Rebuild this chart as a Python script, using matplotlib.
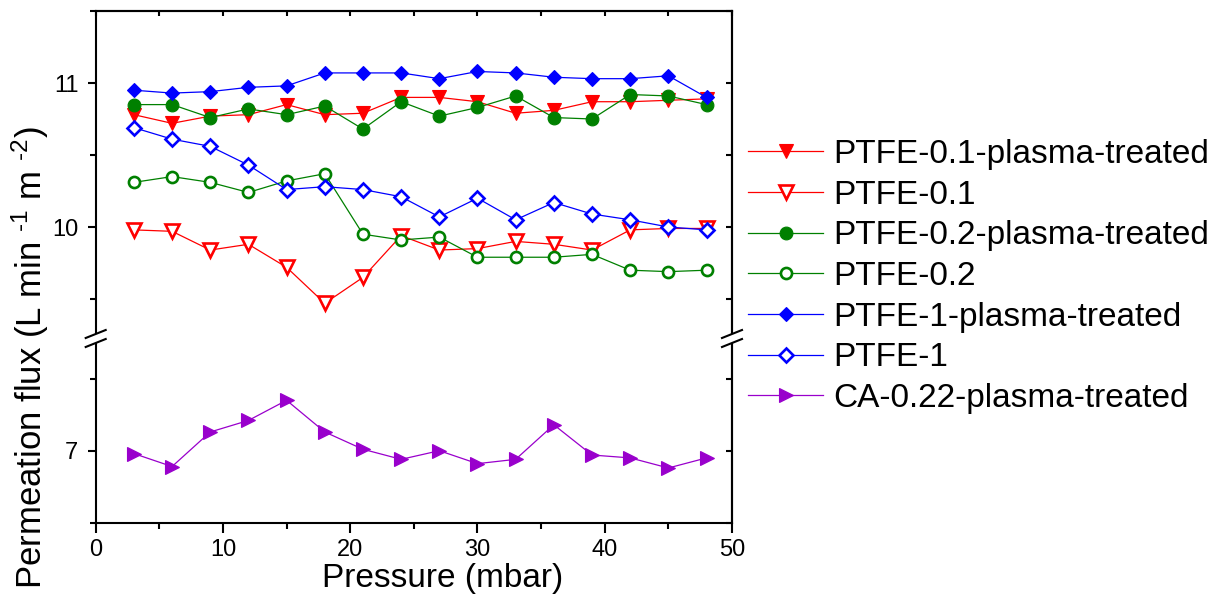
import matplotlib
matplotlib.use("Agg")
import matplotlib.pyplot as plt
from matplotlib.ticker import MultipleLocator, NullFormatter
from matplotlib.lines import Line2D
from matplotlib.patches import Polygon

plt.rcParams["font.family"] = ["Liberation Sans", "DejaVu Sans"]
plt.rcParams["mathtext.fontset"] = "custom"
plt.rcParams["mathtext.rm"] = "Liberation Sans"
plt.rcParams["mathtext.it"] = "Liberation Sans:italic"
plt.rcParams["mathtext.default"] = "regular"

# ---- data: permeation flux (L min-1 m-2) vs. pressure (mbar) ----
pressure = [3, 6, 9, 12, 15, 18, 21, 24, 27, 30, 33, 36, 39, 42, 45, 48]

ptfe01_plasma = [10.78, 10.72, 10.77, 10.78, 10.85, 10.78, 10.79, 10.90,
                 10.90, 10.87, 10.79, 10.81, 10.87, 10.87, 10.88, 10.89]
ptfe01 = [9.98, 9.97, 9.84, 9.88, 9.72, 9.47, 9.65, 9.94,
          9.84, 9.85, 9.90, 9.88, 9.84, 9.98, 9.99, 9.99]
ptfe02_plasma = [10.85, 10.85, 10.76, 10.82, 10.78, 10.84, 10.68, 10.87,
                 10.77, 10.83, 10.91, 10.76, 10.75, 10.92, 10.91, 10.85]
ptfe02 = [10.31, 10.35, 10.31, 10.24, 10.32, 10.37, 9.95, 9.91,
          9.93, 9.79, 9.79, 9.79, 9.81, 9.70, 9.69, 9.70]
ptfe1_plasma = [10.95, 10.93, 10.94, 10.97, 10.98, 11.07, 11.07, 11.07,
                11.03, 11.08, 11.07, 11.04, 11.03, 11.03, 11.05, 10.90]
ptfe1 = [10.69, 10.61, 10.56, 10.43, 10.26, 10.28, 10.26, 10.21,
         10.07, 10.20, 10.05, 10.17, 10.09, 10.05, 10.00, 9.98]
ca022_plasma = [6.98, 6.89, 7.13, 7.21, 7.35, 7.13, 7.01, 6.94,
                7.00, 6.91, 6.94, 7.18, 6.97, 6.95, 6.88, 6.95]

series_labels = ["PTFE-0.1-plasma-treated", "PTFE-0.1",
                 "PTFE-0.2-plasma-treated", "PTFE-0.2",
                 "PTFE-1-plasma-treated", "PTFE-1",
                 "CA-0.22-plasma-treated"]

RED, GREEN, BLUE, PURPLE = "#FF0000", "#008000", "#0000FF", "#9900CC"

# ---- layout in pixels ----
W, H = 1218, 607
fig = plt.figure(figsize=(W / 100, H / 100), dpi=100)


def fx(px):
    return px / W


def fy(py):
    return 1 - py / H


left, right = 95.7, 732.0
top, brk, bottom = 11.0, 338.5, 522.7
px_per_unit = 144.0

ax_top = fig.add_axes([fx(left), fy(brk), fx(right) - fx(left), fy(top) - fy(brk)])
ax_bot = fig.add_axes([fx(left), fy(bottom), fx(right) - fx(left), fy(brk) - fy(bottom)])

ax_top.set_ylim(11.5 - (brk - top) / px_per_unit, 11.5)
ax_bot.set_ylim(6.5, 6.5 + (bottom - brk) / px_per_unit)
for ax in (ax_top, ax_bot):
    ax.set_xlim(0, 50)

# ---- series ----
def plot_series(ax, y, color, marker, ms, filled, label):
    return ax.plot(pressure, y, color=color, lw=0.9, marker=marker,
                   markersize=ms, markeredgewidth=1.9 if not filled else 0.8,
                   markerfacecolor=color if filled else "white",
                   markeredgecolor=color, label=label, clip_on=False)[0]

handles = [
    plot_series(ax_top, ptfe01_plasma, RED, "v", 10.5, True, series_labels[0]),
    plot_series(ax_top, ptfe01, RED, "v", 9.5, False, series_labels[1]),
    plot_series(ax_top, ptfe02_plasma, GREEN, "o", 9.2, True, series_labels[2]),
    plot_series(ax_top, ptfe02, GREEN, "o", 8.0, False, series_labels[3]),
    plot_series(ax_top, ptfe1_plasma, BLUE, "D", 7.4, True, series_labels[4]),
    plot_series(ax_top, ptfe1, BLUE, "D", 7.2, False, series_labels[5]),
    plot_series(ax_bot, ca022_plasma, PURPLE, ">", 10.5, True, series_labels[6]),
]

# ---- spines and ticks ----
SPW = 1.5
for ax in (ax_top, ax_bot):
    for s in ax.spines.values():
        s.set_linewidth(SPW)
    ax.yaxis.set_major_locator(MultipleLocator(1))
    ax.yaxis.set_minor_locator(MultipleLocator(0.5))
    ax.xaxis.set_major_locator(MultipleLocator(10))
    ax.xaxis.set_minor_locator(MultipleLocator(5))
    ax.tick_params(axis="y", which="major", direction="out", length=6,
                   width=SPW, right=False, labelsize=17, pad=6.5)
    ax.tick_params(axis="y", which="minor", direction="out", length=4,
                   width=SPW, right=False)
    # mirrored inward ticks on the right side
    sec_y = ax.secondary_yaxis("right")
    sec_y.yaxis.set_major_locator(MultipleLocator(0.5))
    sec_y.yaxis.set_major_formatter(NullFormatter())
    sec_y.tick_params(direction="in", length=4.5, width=SPW)
    sec_y.spines["right"].set_linewidth(SPW)

ax_top.spines["bottom"].set_visible(False)
ax_bot.spines["top"].set_visible(False)
ax_top.tick_params(axis="x", which="both", bottom=False, top=False,
                   labelbottom=False)

sec_x = ax_top.secondary_xaxis("top")
sec_x.xaxis.set_major_locator(MultipleLocator(5))
sec_x.xaxis.set_major_formatter(NullFormatter())
sec_x.tick_params(direction="in", length=3.5, width=SPW)
sec_x.spines["top"].set_linewidth(SPW)

ax_bot.tick_params(axis="x", which="major", direction="out", length=7,
                   width=SPW, top=False, labelsize=17, pad=5)
ax_bot.tick_params(axis="x", which="minor", direction="out", length=4,
                   width=SPW, top=False)

# ---- axis break marks ----
def break_mark(xc):
    dx, dy = 10, 4
    ca, cb = 334.0, 343.0
    a0, a1 = (xc - dx, ca + dy), (xc + dx, ca - dy)
    b0, b1 = (xc - dx, cb + dy), (xc + dx, cb - dy)
    conv = lambda p: (fx(p[0]), fy(p[1]))
    gap = Polygon([conv(a0), conv(a1), conv(b1), conv(b0)], closed=True,
                  transform=fig.transFigure, facecolor="white",
                  edgecolor="none", zorder=10)
    fig.add_artist(gap)
    for p0, p1 in ((a0, a1), (b0, b1)):
        fig.add_artist(Line2D([fx(p0[0]), fx(p1[0])], [fy(p0[1]), fy(p1[1])],
                              transform=fig.transFigure, color="black",
                              lw=SPW, zorder=11))


break_mark(left)
break_mark(right)

# ---- labels ----
fig.text(fx(443), fy(578), "Pressure (mbar)", ha="center", va="center",
         fontsize=24)
fig.text(fx(30), fy(358),
         "Permeation flux (L min $^{\u20101}$ m $^{\u20102}$)",
         rotation=90, ha="center", va="center", fontsize=25)

# ---- legend ----
fig.legend(handles, series_labels, loc="upper left",
           bbox_to_anchor=(fx(748), fy(139)), frameon=False, fontsize=24,
           handlelength=2.25, handletextpad=0.3, labelspacing=0.29,
           borderpad=0, borderaxespad=0, numpoints=1)

fig.savefig("out.png", dpi=100)
